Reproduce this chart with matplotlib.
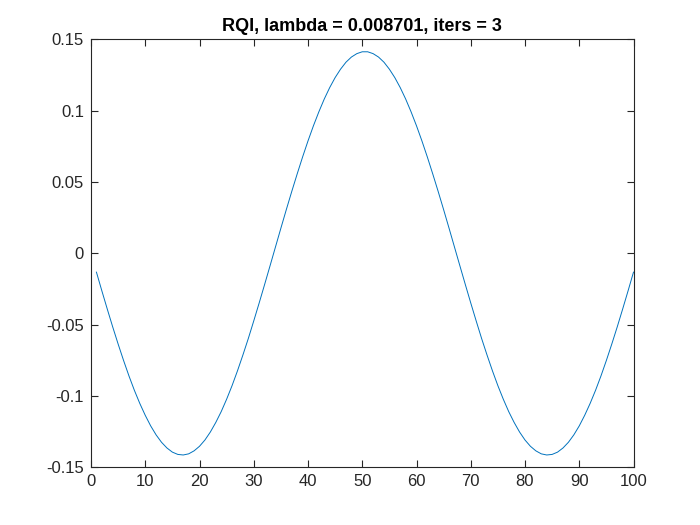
import matplotlib
matplotlib.use("Agg")
from matplotlib import pyplot as plt

# eigenvector entries, index 1..100
idx = list(range(1, 101))
vec = [
    -0.0132, -0.0263, -0.0391, -0.0516, -0.0636, -0.0751, -0.0860, -0.0961, -0.1053, -0.1136,
    -0.1210, -0.1273, -0.1325, -0.1365, -0.1394, -0.1410, -0.1414, -0.1406, -0.1385, -0.1353,
    -0.1309, -0.1253, -0.1186, -0.1110, -0.1023, -0.0928, -0.0824, -0.0713, -0.0597, -0.0474,
    -0.0348, -0.0219, -0.0088, 0.0044, 0.0176, 0.0306, 0.0433, 0.0556, 0.0675, 0.0788,
    0.0894, 0.0992, 0.1082, 0.1162, 0.1232, 0.1291, 0.1340, 0.1376, 0.1400, 0.1413,
    0.1413, 0.1400, 0.1376, 0.1340, 0.1291, 0.1232, 0.1162, 0.1082, 0.0992, 0.0894,
    0.0788, 0.0675, 0.0556, 0.0433, 0.0306, 0.0176, 0.0044, -0.0088, -0.0219, -0.0348,
    -0.0474, -0.0597, -0.0713, -0.0824, -0.0928, -0.1023, -0.1110, -0.1186, -0.1253, -0.1309,
    -0.1353, -0.1385, -0.1406, -0.1414, -0.1410, -0.1394, -0.1365, -0.1325, -0.1273, -0.1210,
    -0.1136, -0.1053, -0.0961, -0.0860, -0.0751, -0.0636, -0.0516, -0.0391, -0.0263, -0.0132,
]
x_ticks = [0, 10, 20, 30, 40, 50, 60, 70, 80, 90, 100]
y_ticks = [-0.15, -0.1, -0.05, 0, 0.05, 0.1, 0.15]
y_labels = ["-0.15", "-0.1", "-0.05", "0", "0.05", "0.1", "0.15"]
title = "RQI, lambda = 0.008701, iters = 3"

plt.rcParams["font.family"] = ["Liberation Sans", "DejaVu Sans"]
dark = "#262626"

fig = plt.figure(figsize=(7, 5.25), dpi=100)
ax = fig.add_axes([0.13, 0.11, 0.775, 0.815])
ax.plot(idx, vec, color="#0072BD", linewidth=0.7)

ax.set_xlim(0, 100)
ax.set_ylim(-0.15, 0.15)
ax.set_xticks(x_ticks)
ax.set_yticks(y_ticks)
ax.set_yticklabels(y_labels)
ax.tick_params(direction="in", length=5, width=0.8, colors=dark, labelsize=12,
               top=True, right=True, pad=5)
for s in ax.spines.values():
    s.set_color(dark)
    s.set_linewidth(0.8)
ax.set_title(title, fontsize=13, fontweight="bold", color="black", pad=6)

fig.savefig("out.png", dpi=100)
